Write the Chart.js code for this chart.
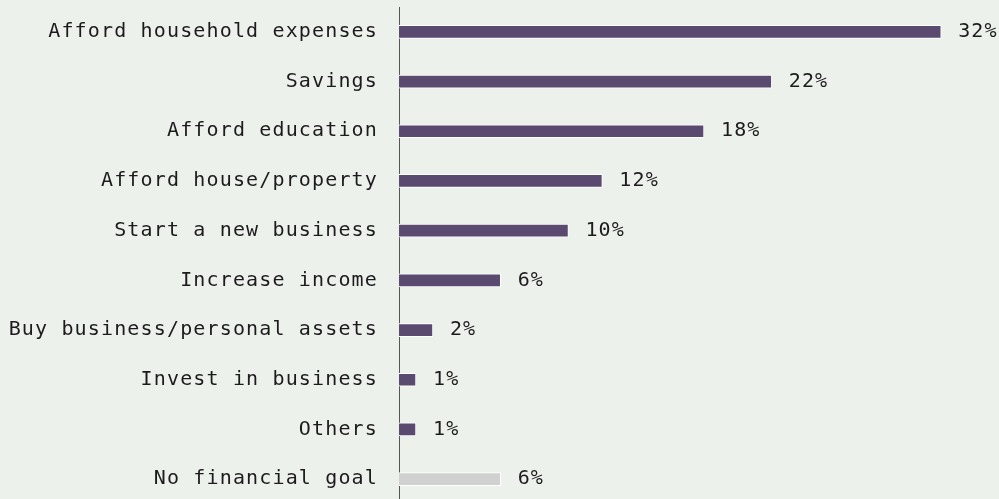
<!DOCTYPE html>
<html>
<head>
<meta charset="utf-8">
<script src="https://cdn.jsdelivr.net/npm/chart.js@4.4.1/dist/chart.umd.min.js"></script>
<style>
html,body{margin:0;padding:0;background:#edf1ec;overflow:hidden;}
#wrap{width:999px;height:504px;position:relative;}
</style>
</head>
<body>
<div id="wrap"><canvas id="c"></canvas></div>
<script>
const categories = [
  "Afford household expenses",
  "Savings",
  "Afford education",
  "Afford house/property",
  "Start a new business",
  "Increase income",
  "Buy business/personal assets",
  "Invest in business",
  "Others",
  "No financial goal"
];
const values = [32, 22, 18, 12, 10, 6, 2, 1, 1, 6];
const barColors = ["#5b4a6f","#5b4a6f","#5b4a6f","#5b4a6f","#5b4a6f","#5b4a6f","#5b4a6f","#5b4a6f","#5b4a6f","#d0d0d0"];

const FONT = '"DejaVu Sans Mono", monospace';
const FSIZE = 20;
const LS = '1.15px';

const spacingPlugin = {
  id: 'spacing',
  beforeLayout(chart){ chart.ctx.letterSpacing = LS; },
  beforeDraw(chart){ chart.ctx.letterSpacing = LS; }
};

const valueLabels = {
  id: 'valueLabels',
  afterDatasetsDraw(chart){
    const ctx = chart.ctx;
    const meta = chart.getDatasetMeta(0);
    ctx.save();
    ctx.letterSpacing = LS;
    ctx.font = FSIZE + 'px ' + FONT;
    ctx.fillStyle = '#1c1c1c';
    ctx.textAlign = 'left';
    ctx.textBaseline = 'middle';
    meta.data.forEach((bar, i) => {
      ctx.fillText(values[i] + '%', bar.x + 17, bar.y);
    });
    ctx.restore();
  }
};

new Chart(document.getElementById('c'), {
  type: 'bar',
  data: {
    labels: categories,
    datasets: [{
      data: values,
      backgroundColor: barColors,
      borderColor: '#ffffff',
      borderWidth: 1,
      barThickness: 13
    }]
  },
  options: {
    indexAxis: 'y',
    responsive: true,
    maintainAspectRatio: false,
    animation: false,
    layout: { padding: { top: 7, right: 7, left: 0, bottom: 0 } },
    plugins: { legend: { display: false }, tooltip: { enabled: false } },
    scales: {
      x: {
        display: false,
        min: 0,
        max: 35
      },
      y: {
        grid: { display: false, drawTicks: false },
        border: { display: true, color: '#555555', width: 1 },
        ticks: {
          color: '#1c1c1c',
          padding: 21,
          font: { family: FONT, size: FSIZE }
        },
        afterFit(scale){
          scale.width = 399;
          scale.paddingTop = 0;
          scale.paddingBottom = 0;
        }
      }
    }
  },
  plugins: [spacingPlugin, valueLabels]
});
</script>
</body>
</html>
